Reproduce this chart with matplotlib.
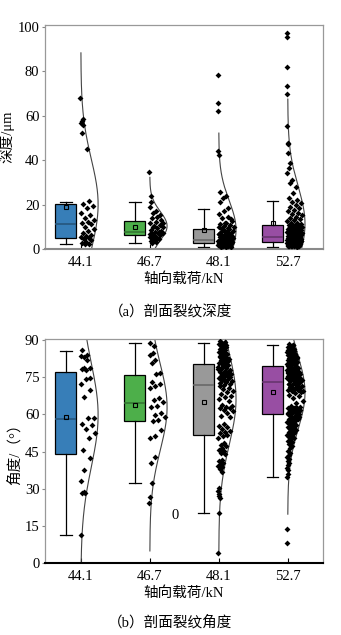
import matplotlib
matplotlib.use('Agg')
import matplotlib.pyplot as plt
import numpy as np

plt.rcParams['font.family'] = ['Liberation Serif', 'Noto Sans CJK SC']
plt.rcParams['font.size'] = 10.5
plt.rcParams['axes.unicode_minus'] = False

loads = ['44.1', '46.7', '48.1', '52.7']
box_colors = ['#377eb8', '#4daf4a', '#999999', '#984ea3']

# ---- 剖面裂纹深度 (um) ----
depth_441 = [67.8, 58.5, 57.5, 56.9, 55.8, 52.1, 45.1,
             21.6, 20.4, 19.5, 18.4, 16.5, 15.4, 14.2, 13.2, 12.4, 11.9, 11.4,
             10.2, 9.0, 8.1, 7.2, 6.5, 6.0, 5.4, 4.9, 4.5, 4.0, 3.4, 3.0, 2.6, 2.2]
depth_467 = [34.9, 24.0, 21.4, 19.2, 17.2, 16.2, 15.5, 14.7, 13.9, 13.2, 12.4,
             11.7, 11.0, 10.5, 9.9, 9.4, 8.7, 8.3, 7.9, 7.5, 7.2, 6.8, 6.4,
             6.1, 5.7, 5.3, 4.9, 4.5, 4.2, 3.8, 3.4, 2.7, 6.9, 8.0, 10.0, 12.0,
             5.0, 7.0]
depth_481 = [78.3, 65.6, 62.1, 44.3, 42.4, 25.9, 24.0, 22.9, 21.4,
             18.4, 17.2, 16.0, 14.7, 13.9, 12.9, 12.0, 11.4, 10.8, 10.3, 9.9,
             9.5, 9.2, 13.4, 11.8, 10.0,
             8.9, 8.6, 8.3, 8.0, 7.7, 7.4, 7.1, 6.8, 6.5, 6.2, 5.9, 5.7, 5.5,
             5.3, 5.1, 4.9, 4.7, 4.5, 4.3, 8.1, 7.0, 6.0, 5.2, 4.6, 6.6,
             4.15, 4.1, 4.0, 3.9, 3.85, 3.8, 3.7, 3.6, 3.55, 3.5, 3.4, 3.35,
             3.3, 3.2, 3.1, 3.05, 3.0, 2.95, 2.9, 2.85, 2.8, 2.75, 4.05, 3.65, 3.25,
             2.65, 2.6, 2.55, 2.5, 2.45, 2.4, 2.35, 2.3, 2.2, 2.1, 2.0, 1.95,
             1.9, 1.8, 1.7, 1.6, 1.5, 1.45, 1.4, 1.3, 1.2, 1.1, 1.0, 2.25, 1.75]
depth_527 = [97.0, 95.5, 82.0, 73.5, 69.6, 55.4, 47.9, 47.3, 43.1, 38.9, 36.4,
             34.4, 31.1, 29.6, 28.1, 25.1, 22.9, 22.2,
             21.4, 20.6, 19.8, 19.1, 18.4, 17.8, 17.1, 16.5, 15.9, 15.3, 14.7,
             14.1, 13.6, 13.0, 12.5, 12.0, 11.6, 11.2, 11.0,
             10.8, 10.6, 10.4, 10.2, 10.0, 9.8, 9.6, 9.4, 9.2, 9.0, 8.8, 8.6,
             8.4, 8.2, 8.0, 7.8, 7.6, 7.4, 7.2, 7.0, 6.8, 6.7, 6.6, 6.5, 6.4,
             6.3, 6.2, 6.1, 6.0, 5.9, 5.8, 5.7, 5.6, 5.5, 9.1, 8.5, 7.9, 7.3,
             5.35, 5.3, 5.2, 5.1, 5.0, 4.95, 4.9, 4.8, 4.7, 4.6, 4.55, 4.5, 4.4,
             4.3, 4.2, 4.15, 4.1, 4.0, 3.9, 3.85, 3.8, 3.7, 3.6, 3.55, 3.5, 3.4,
             3.35, 3.3, 3.2, 3.15, 3.1, 4.45, 4.05, 3.65, 3.25, 5.05, 4.75, 4.25,
             3.05, 3.0, 2.95, 2.9, 2.85, 2.8, 2.75, 2.7, 2.65, 2.6, 2.55, 2.5,
             2.45, 2.4, 2.35, 2.3, 2.25, 2.2, 2.1, 2.0, 1.9, 1.8, 1.7, 1.6, 1.5,
             1.4, 1.3, 1.2, 2.9, 2.7, 2.5, 2.3, 2.1, 1.9, 1.7, 1.5, 1.3]

# ---- 剖面裂纹角度 (deg) ----
angle_441 = [86.0, 84.0, 83.3, 83.7, 81.9, 78.6, 78.9, 77.9, 78.3, 74.6, 74.3,
             72.1, 69.9, 67.2, 58.4, 58.7, 56.0, 55.7, 54.1, 52.4, 50.6, 45.7,
             42.3, 37.6, 33.3, 28.9, 28.5, 28.2, 11.3]
angle_467 = [88.9, 87.6, 84.6, 84.0, 81.9, 80.6, 76.6, 76.3, 73.2, 72.3, 71.5,
             70.5, 66.5, 65.8, 65.2, 63.4, 62.9, 60.5, 59.8, 59.1, 57.8, 57.4,
             53.7, 51.3, 50.4, 43.0, 40.3, 32.5, 26.9, 24.2]
angle_481 = [89.5, 89.0, 88.7, 88.2, 87.8, 87.5, 87.1, 86.8, 86.4, 86.0, 85.7,
             85.3, 85.0, 84.6, 84.3, 84.0, 83.6, 83.2, 82.9, 82.5, 82.2, 81.8,
             81.5, 81.1, 80.8, 80.5, 80.2, 88.0, 85.5, 83.0,
             79.8, 79.5, 79.1, 78.8, 78.4, 78.0, 77.7, 77.3, 77.0, 76.6, 76.3,
             75.9, 75.6, 75.2, 74.9, 74.5, 74.1, 73.8, 73.4, 73.1, 72.7, 72.3,
             72.0, 78.5, 76.0, 74.0, 77.5, 73.5,
             71.5, 70.8, 70.2, 69.5, 68.9, 68.2, 67.6, 66.9, 66.3, 65.6, 64.0,
             63.6, 63.2, 62.8, 62.4, 61.8, 61.2, 60.5, 59.4, 58.9, 56.0, 55.3,
             54.8, 54.1, 53.5, 52.9, 52.4, 51.9,
             51.2, 50.6, 48.5, 47.8, 47.2, 46.5, 45.8, 45.2, 44.6, 44.0, 41.8,
             41.2, 40.6, 40.0, 39.4, 38.8, 37.9, 36.9, 30.5, 29.3, 27.9, 27.0,
             26.2, 20.4, 4.3]
angle_527 = [88.3, 88.0, 87.6, 87.3, 87.0, 86.8, 86.5, 86.2, 86.0, 85.7, 85.5,
             85.2, 85.0, 84.8, 84.5, 84.3, 84.0, 83.8, 83.5, 83.3, 83.0, 82.8,
             82.5, 82.3, 82.0, 81.8, 81.6, 81.3, 81.1, 80.9, 80.7, 80.5, 80.3,
             80.1, 79.9, 87.8, 86.9, 85.9, 84.9, 83.9, 82.9, 81.9, 80.8, 85.4, 83.6,
             79.5, 79.3, 79.1, 78.9, 78.7, 78.5, 78.3, 78.1, 77.9, 77.7, 77.5,
             77.3, 77.1, 76.9, 76.7, 76.5, 76.3, 76.1, 75.9, 75.7, 75.5, 75.3,
             75.1, 74.9, 74.7, 74.5, 74.3, 74.1, 73.9, 73.7, 73.5, 73.3, 79.0,
             78.0, 77.0, 76.0, 75.0, 74.0, 78.6, 77.6, 76.6, 75.6, 74.6, 73.6, 76.8,
             73.0, 72.7, 72.4, 72.1, 71.8, 71.5, 71.2, 70.9, 70.6, 70.3, 70.0,
             69.7, 69.4, 69.1, 68.6, 68.0, 67.3, 66.5, 65.6, 64.6, 63.6, 63.0,
             62.7, 62.4, 62.1, 61.8, 61.6, 61.4, 61.2, 61.0, 60.8, 60.6, 60.4,
             60.2, 60.1, 72.9, 72.2, 71.0, 70.1, 69.3, 62.9, 62.2, 61.5, 60.9, 60.3,
             59.8, 59.4, 59.0, 58.6, 58.2, 57.8, 57.4, 57.0, 56.6, 56.2, 55.8,
             55.4, 55.0, 54.6, 54.2, 53.8, 53.4, 53.0, 52.6, 52.2, 51.8, 51.4,
             51.0, 50.5, 50.0, 49.4, 48.8, 48.0, 47.2, 46.3, 45.4, 44.6, 43.8,
             43.0, 42.2, 41.4, 40.5, 39.5, 38.5, 37.5, 36.0, 34.8, 13.8, 8.1, 58.0]

# box statistics: whisker low, Q1, median, Q3, whisker high, mean
depth_stats = [(2.2, 4.9, 11.4, 20.2, 21.1, 19.2),
               (2.7, 6.3, 7.6, 12.6, 21.1, 10.2),
               (1.2, 2.7, 4.2, 9.0, 18.0, 8.7),
               (1.2, 3.1, 5.4, 10.9, 21.6, 11.7)]
angle_stats = [(11.3, 43.9, 58.3, 77.2, 85.7, 58.8),
               (32.2, 57.4, 64.7, 75.8, 88.9, 63.7),
               (20.1, 51.6, 71.9, 80.2, 88.9, 65.2),
               (34.8, 60.0, 73.2, 79.7, 88.1, 69.0)]

CURVE_W = 0.25   # max width of the normal curve (x units)
CURVE_K = 3.35   # curve drawn over mean +/- K*sd


def darker(c, f=0.68):
    r, g, b = matplotlib.colors.to_rgb(c)
    return (r * f, g * f, b * f)


def draw_panel(ax, groups, stats, ylim, yticks, ylabel, bottom_color):
    for i, (vals, st, col) in enumerate(zip(groups, stats, box_colors)):
        pos = i + 1
        vals = np.asarray(vals, dtype=float)
        lo, q1, med, q3, hi, mean = st
        b = dict(whislo=lo, q1=q1, med=med, q3=q3, whishi=hi, mean=mean, fliers=[])
        ax.bxp([b], positions=[pos - 0.22], widths=0.31, capwidths=0.17,
               patch_artist=True, showmeans=True, showfliers=False,
               boxprops=dict(facecolor=col, edgecolor='black', linewidth=0.9),
               medianprops=dict(color=darker(col), linewidth=1.2),
               whiskerprops=dict(color='black', linewidth=0.9),
               capprops=dict(color='black', linewidth=0.9),
               meanprops=dict(marker='s', markersize=3, markerfacecolor='none',
                              markeredgecolor='black', markeredgewidth=0.8))

        m, s = vals.mean(), vals.std(ddof=1)
        yy = np.linspace(m - CURVE_K * s, m + CURVE_K * s, 400)
        ww = CURVE_W * np.exp(-0.5 * ((yy - m) / s) ** 2)
        ax.plot(pos + ww, yy, color='#444444', lw=0.8, zorder=2)

        # spread points inside the curve
        u = (np.arange(len(vals)) * 0.6180339 + 0.25) % 1.0
        wx = CURVE_W * np.exp(-0.5 * ((vals - m) / s) ** 2)
        ax.scatter(pos - 0.01 + u * wx * 0.92, vals, s=9, marker='D',
                   color='black', linewidths=0, zorder=3)

    ax.set_xlim(0.48, 4.51)
    ax.set_ylim(*ylim)
    ax.set_xticks([1, 2, 3, 4])
    ax.set_xticklabels(loads)
    ax.set_yticks(yticks)
    ax.tick_params(axis='x', direction='in', length=3.5, pad=5, color='black')
    ax.tick_params(axis='y', direction='out', length=2, pad=2, color='#888888')
    for sp in ['top', 'right', 'left']:
        ax.spines[sp].set_color('#999999')
        ax.spines[sp].set_linewidth(0.9)
    ax.spines['bottom'].set_color(bottom_color)
    ax.spines['bottom'].set_linewidth(1.5)
    ax.set_xlabel('轴向载荷/kN', labelpad=2)
    ax.set_ylabel(ylabel, labelpad=2)


fig = plt.figure(figsize=(3.41, 6.35), dpi=100)
ax1 = fig.add_axes([0.132, 0.6074, 0.815, 0.3532])
ax2 = fig.add_axes([0.132, 0.1129, 0.815, 0.3532])

draw_panel(ax1, [depth_441, depth_467, depth_481, depth_527], depth_stats,
           (0, 100.8), [0, 20, 40, 60, 80, 100], '深度/μm', '#8a8a8a')
draw_panel(ax2, [angle_441, angle_467, angle_481, angle_527], angle_stats,
           (0, 90.4), [0, 15, 30, 45, 60, 75, 90], '角度/（°）', 'black')

# stray label in the original figure
ax2.text(2.36, 19.2, '0', ha='center', va='center')

fig.text(0.5, 1 - 312 / 635, '（a）剖面裂纹深度', ha='center', va='center')
fig.text(0.5, 1 - 622 / 635, '（b）剖面裂纹角度', ha='center', va='center')

fig.savefig('out.png', dpi=100)
